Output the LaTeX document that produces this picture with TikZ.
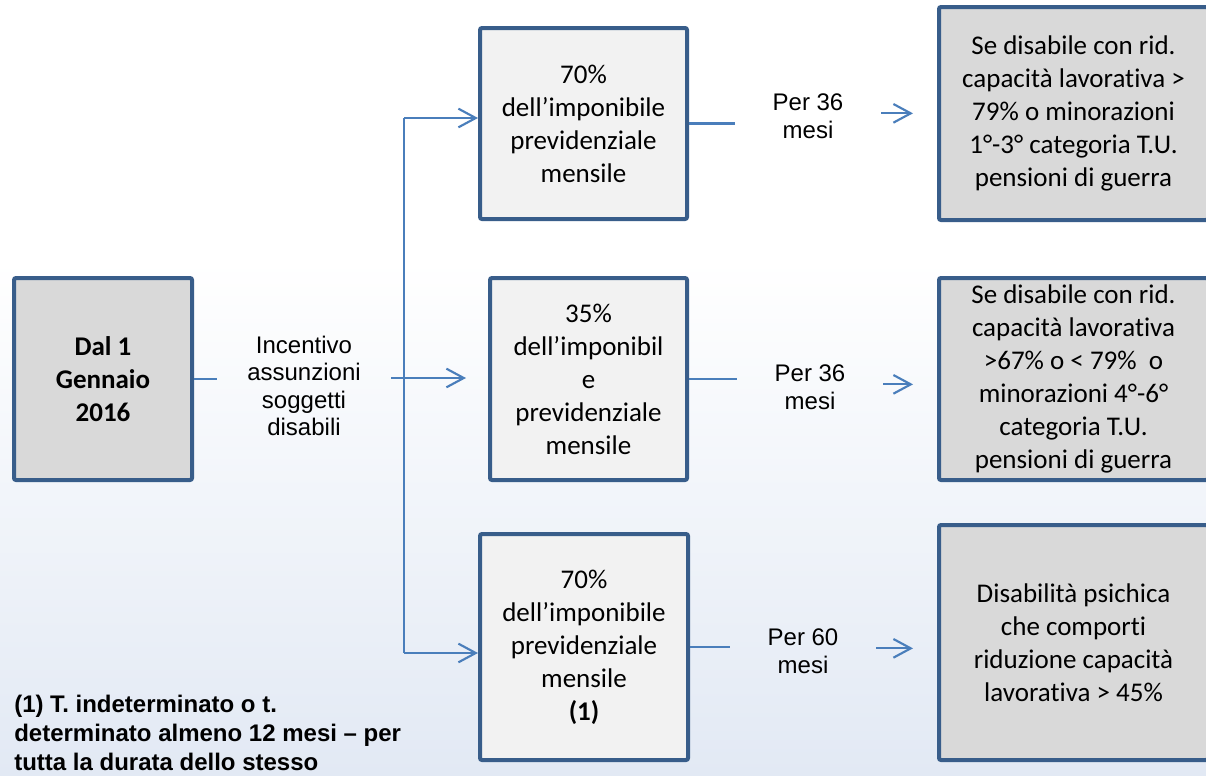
\documentclass[tikz,border=0pt]{standalone}
\usepackage{fontspec}
\setmainfont{Carlito}[Ligatures={NoCommon}]
\newfontfamily\arialfont{Liberation Sans}
\usetikzlibrary{positioning, arrows.meta}
\definecolor{edge}{RGB}{56, 93, 138}
\definecolor{linkblue}{RGB}{74, 126, 187}
\definecolor{darkfill}{RGB}{217, 217, 217}
\definecolor{lightfill}{RGB}{242, 242, 242}
\definecolor{bgblue}{RGB}{226, 233, 244}

\begin{document}
\begin{tikzpicture}[
    x=0.75pt, y=-0.75pt,
    box/.style={
        draw=edge,
        line width=3pt,
        rounded corners=1.5pt,
        fill=#1,
        align=center,
        inner sep=0pt,
        font=\fontsize{20.25}{24.75}\selectfont
    },
    box/.default=darkfill,
    lbl/.style={font=\arialfont\fontsize{18}{20.7}\selectfont, align=center, inner sep=0pt},
    notelbl/.style={font=\arialfont\bfseries\fontsize{18}{21.6}\selectfont, align=left, inner sep=0pt},
    conn/.style={draw=linkblue, line width=1.6pt}
]

% === Background ===
\useasboundingbox (0,0) rectangle (1206,775);
\fill[white] (0,0) rectangle (1206,260);
\shade[top color=white, bottom color=bgblue] (0,260) rectangle (1206,775);

% === Start ===
\node[box, minimum width=133.5pt, minimum height=151.5pt, font=\fontsize{20.25}{24.75}\selectfont\bfseries] (start) at (103,379) {Dal 1\\Gennaio\\2016};
\node[lbl, minimum width=130.5pt] (incent) at (304,386) {Incentivo\\assunzioni\\soggetti\\disabili};

% === Rates ===
\node[box=lightfill, minimum width=155.25pt, minimum height=143.25pt] (mid1) at (583.5,123.5) {70\%\\dell’imponibile\\previdenziale\\mensile};
\node[box=lightfill, minimum width=147.75pt, minimum height=151.5pt] (mid2) at (588.5,379) {35\%\\dell’imponibil\\e\\previdenziale\\mensile};
\node[box=lightfill, minimum width=156pt, minimum height=169.5pt] (mid3) at (584,647) {70\%\\dell’imponibile\\previdenziale\\mensile\\\textbf{(1)}};

% === Durations ===
\node[lbl, minimum width=109.5pt] (per1) at (808,116) {Per 36\\mesi};
\node[lbl, minimum width=109.5pt] (per2) at (810,387) {Per 36\\mesi};
\node[lbl, minimum width=109.5pt] (per3) at (803,651) {Per 60\\mesi};

% === Conditions ===
\node[box, minimum width=201.75pt, minimum height=159.75pt] (res1) at (1073.5,113.5) {Se disabile con rid.\\capacità lavorativa >\\79\% o minorazioni\\1°-3° categoria T.U.\\pensioni di guerra};
\node[box, minimum width=201.75pt, minimum height=151.5pt] (res2) at (1073.5,379) {Se disabile con rid.\\capacità lavorativa\\>67\% o < 79\%\ \ o\\minorazioni 4°-6°\\categoria T.U.\\pensioni di guerra};
\node[box, minimum width=201.75pt, minimum height=176.25pt] (res3) at (1073.5,642.5) {Disabilità psichica\\che comporti\\riduzione capacità\\lavorativa > 45\%};

% === Note ===
\node[notelbl, anchor=north west] (note) at (14,695) {(1) T. indeterminato o t.\\determinato almeno 12 mesi – per\\tutta la durata dello stesso};

% === Fork ===
\coordinate (fork) at (404,378);
\coordinate (forktop) at (404,118);
\coordinate (forkbot) at (404,653);

% === Arrows ===
\draw[conn] (start.east) -- (start.east -| incent.west);
\draw[conn] (fork -| incent.east) -- (fork);
\draw[conn] (forktop) -- (forkbot);
\draw[->, >={Straight Barb[length=13pt,width=14pt]}, conn] (forktop) -- (forktop -| mid1.west);
\draw[->, >={Straight Barb[length=13pt,width=14pt]}, conn, shorten >=16.5pt] (fork) -- (fork -| mid2.west);
\draw[->, >={Straight Barb[length=13pt,width=14pt]}, conn] (forkbot) -- (forkbot -| mid3.west);

\draw[conn] (mid1.east) -- (mid1.east -| per1.west);
\draw[conn] (mid2.east) -- (mid2.east -| per2.west);
\draw[conn] (mid3.east) -- (mid3.east -| per3.west);
\draw[->, >={Straight Barb[length=13pt,width=14pt]}, conn, shorten >=18pt] ([yshift=2pt]per1.east) -- ([yshift=2pt]per1.east -| res1.west);
\draw[->, >={Straight Barb[length=13pt,width=14pt]}, conn, shorten >=18pt] ([yshift=2pt]per2.east) -- ([yshift=2pt]per2.east -| res2.west);
\draw[->, >={Straight Barb[length=13pt,width=14pt]}, conn, shorten >=18pt] ([yshift=2pt]per3.east) -- ([yshift=2pt]per3.east -| res3.west);

\end{tikzpicture}
\end{document}
